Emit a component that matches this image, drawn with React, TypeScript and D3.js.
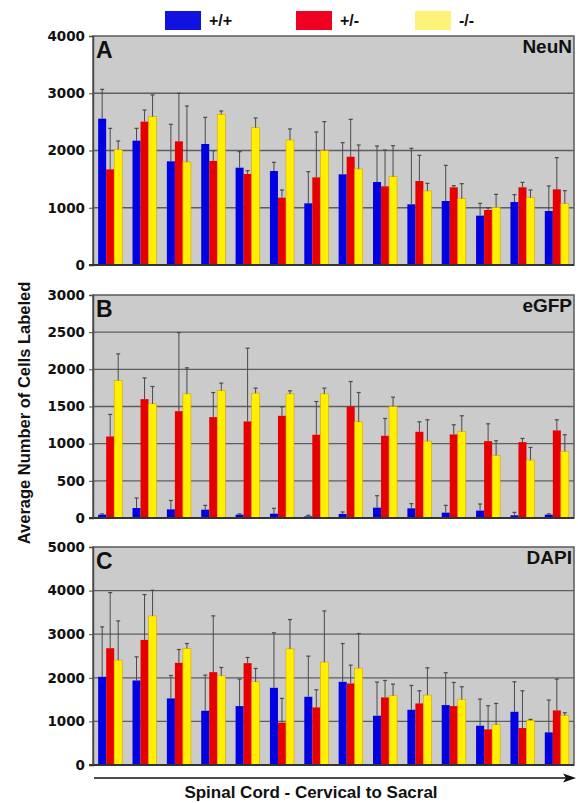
import React, { useEffect, useRef } from 'react';
import * as d3 from 'd3';

// 14 spinal cord levels, cervical -> sacral
const levels = d3.range(14).map(i => `L${i + 1}`);
const genotypes = ['+/+', '+/-', '-/-'];

// NeuN (panel A)
const neunWT = [2556, 2172, 1811, 2114, 1700, 1642, 1077, 1584, 1450, 1060, 1118, 862, 1100, 943];
const neunWTsd = [512, 215, 646, 465, 280, 151, 553, 553, 629, 978, 623, 215, 129, 437];
const neunHet = [1671, 2504, 2160, 1817, 1590, 1176, 1531, 1892, 1374, 1467, 1357, 961, 1357, 1322];
const neunHetSd = [716, 203, 839, 180, 58, 134, 792, 652, 635, 449, 29, 40, 87, 553];
const neunKO = [2020, 2591, 1799, 2632, 2399, 2183, 1997, 1677, 1543, 1293, 1159, 1007, 1176, 1071];
const neunKOsd = [146, 379, 978, 58, 169, 193, 507, 419, 541, 133, 262, 227, 134, 227];

// eGFP (panel B)
const gfpWT = [45, 134, 116, 112, 45, 58, 22, 54, 139, 130, 72, 99, 36, 45];
const gfpWTsd = [10, 135, 120, 58, 10, 72, 15, 27, 161, 63, 98, 89, 40, 10];
const gfpHet = [1097, 1599, 1437, 1357, 1299, 1375, 1120, 1500, 1106, 1160, 1124, 1034, 1021, 1178];
const gfpHetSd = [296, 286, 1057, 331, 985, 121, 447, 336, 233, 134, 130, 233, 49, 143];
const gfpKO = [1849, 1536, 1670, 1715, 1679, 1670, 1670, 1294, 1500, 1034, 1164, 842, 779, 896];
const gfpKOsd = [359, 233, 350, 99, 68, 41, 77, 394, 126, 287, 211, 197, 170, 224];

// DAPI (panel C)
const dapiWT = [2023, 1939, 1527, 1244, 1351, 1771, 1565, 1908, 1130, 1267, 1374, 901, 1221, 748];
const dapiWTsd = [1145, 542, 526, 817, 618, 1260, 931, 878, 771, 557, 741, 610, 687, 741];
const dapiHet = [2679, 2870, 2344, 2130, 2336, 969, 1321, 1870, 1550, 1412, 1351, 817, 847, 1252];
const dapiHetSd = [1275, 1038, 305, 1290, 130, 558, 404, 420, 389, 290, 542, 542, 855, 717];
const dapiKO = [2405, 3420, 2672, 2046, 1908, 2664, 2359, 2221, 1588, 1603, 1504, 924, 1023, 1137];
const dapiKOsd = [900, 588, 114, 191, 306, 672, 1175, 794, 267, 626, 290, 488, 23, 61];

const panels = [
  { letter: 'A', name: 'NeuN', top: 36, bottom: 265, max: 4000, step: 1000,
    means: [neunWT, neunHet, neunKO], sds: [neunWTsd, neunHetSd, neunKOsd] },
  { letter: 'B', name: 'eGFP', top: 295, bottom: 518, max: 3000, step: 500,
    means: [gfpWT, gfpHet, gfpKO], sds: [gfpWTsd, gfpHetSd, gfpKOsd] },
  { letter: 'C', name: 'DAPI', top: 547, bottom: 765, max: 5000, step: 1000,
    means: [dapiWT, dapiHet, dapiKO], sds: [dapiWTsd, dapiHetSd, dapiKOsd] },
];

const barColors = ['#0000e0', '#e60000', '#ffef00'];
const legendColors = ['#1212e0', '#f00020', '#fff278'];
const sans = 'Liberation Sans, Arial, sans-serif';
const tickFont = 'DejaVu Sans, Verdana, sans-serif';

const App = () => {
  const svgRef = useRef<SVGSVGElement>(null);
  const width = 578;
  const height = 803;

  useEffect(() => {
    const svg = d3.select(svgRef.current);
    svg.selectAll('*').remove();

    const left = 93;
    const right = 574;

    const x0 = d3.scaleBand<string>()
      .domain(levels)
      .range([left, right])
      .paddingInner(0.3)
      .paddingOuter(0.15);

    const x1 = d3.scaleBand<string>()
      .domain(genotypes)
      .range([0, x0.bandwidth()]);

    panels.forEach(p => {
      const y = d3.scaleLinear().domain([0, p.max]).range([p.bottom, p.top]);
      const g = svg.append('g');

      // plot background
      g.append('rect')
        .attr('x', left)
        .attr('y', p.top)
        .attr('width', right - left)
        .attr('height', p.bottom - p.top)
        .attr('fill', '#cbcbcb')
        .attr('stroke', '#5a5a5a')
        .attr('stroke-width', 1.5);

      const ticks = d3.range(0, p.max + 1, p.step);

      // gridlines
      g.selectAll('.grid')
        .data(ticks.filter(t => t > 0 && t < p.max))
        .enter()
        .append('line')
        .attr('x1', left)
        .attr('x2', right)
        .attr('y1', d => y(d))
        .attr('y2', d => y(d))
        .attr('stroke', '#5e5e5e')
        .attr('stroke-width', 1.3);

      // y axis ticks + labels
      const axis = g.append('g')
        .attr('transform', `translate(${left},0)`)
        .call(d3.axisLeft(y).tickValues(ticks).tickSize(4).tickPadding(4).tickFormat(d3.format('d')));
      axis.select('.domain').attr('stroke', '#4a4a4a').attr('stroke-width', 1.5);
      axis.selectAll('.tick line').attr('stroke', '#4a4a4a');
      axis.selectAll('.tick text')
        .attr('fill', '#111')
        .style('font-family', tickFont)
        .style('font-weight', 'bold')
        .style('font-size', '13.5px');

      // bars
      const groups = g.selectAll('.grp')
        .data(levels)
        .enter()
        .append('g')
        .attr('transform', d => `translate(${x0(d)},0)`);

      genotypes.forEach((gt, k) => {
        groups.append('rect')
          .attr('x', x1(gt)!)
          .attr('width', x1.bandwidth())
          .attr('y', (_, i) => y(p.means[k][i]))
          .attr('height', (_, i) => p.bottom - y(p.means[k][i]))
          .attr('fill', barColors[k])
          .attr('stroke', k === 2 ? '#e0a000' : 'none')
          .attr('stroke-width', k === 2 ? 0.6 : 0);

        const cx = x1(gt)! + x1.bandwidth() / 2;
        groups.append('line')
          .attr('x1', cx)
          .attr('x2', cx)
          .attr('y1', (_, i) => y(p.means[k][i]))
          .attr('y2', (_, i) => y(p.means[k][i] + p.sds[k][i]))
          .attr('stroke', '#4a4a4a')
          .attr('stroke-width', 1);

        groups.append('line')
          .attr('x1', cx - 2)
          .attr('x2', cx + 2)
          .attr('y1', (_, i) => y(p.means[k][i] + p.sds[k][i]))
          .attr('y2', (_, i) => y(p.means[k][i] + p.sds[k][i]))
          .attr('stroke', '#4a4a4a')
          .attr('stroke-width', 1.2);
      });

      // baseline
      g.append('line')
        .attr('x1', left - 4)
        .attr('x2', right)
        .attr('y1', p.bottom)
        .attr('y2', p.bottom)
        .attr('stroke', '#333')
        .attr('stroke-width', 1.8);

      // panel letter and stain name
      g.append('text')
        .attr('x', left + 3)
        .attr('y', p.top + 22)
        .style('font-family', sans)
        .style('font-weight', 'bold')
        .style('font-size', '23px')
        .attr('fill', '#111')
        .text(p.letter);

      g.append('text')
        .attr('x', right - 2)
        .attr('y', p.top + 17)
        .attr('text-anchor', 'end')
        .style('font-family', sans)
        .style('font-weight', 'bold')
        .style('font-size', '19px')
        .attr('fill', '#111')
        .text(p.name);
    });

    // legend
    const legendX = [165, 296, 415];
    genotypes.forEach((gt, k) => {
      svg.append('rect')
        .attr('x', legendX[k])
        .attr('y', 11)
        .attr('width', 36)
        .attr('height', 19)
        .attr('fill', legendColors[k]);
      svg.append('text')
        .attr('x', legendX[k] + 44)
        .attr('y', 26)
        .style('font-family', sans)
        .style('font-weight', 'bold')
        .style('font-size', '16px')
        .attr('fill', '#111')
        .text(gt);
    });

    // y axis title
    svg.append('text')
      .attr('transform', 'translate(30,413) rotate(-90)')
      .attr('text-anchor', 'middle')
      .style('font-family', sans)
      .style('font-weight', 'bold')
      .style('font-size', '16.5px')
      .attr('fill', '#111')
      .text('Average Number of Cells Labeled');

    // x axis arrow
    svg.append('line')
      .attr('x1', 94)
      .attr('x2', 566)
      .attr('y1', 778)
      .attr('y2', 778)
      .attr('stroke', '#111')
      .attr('stroke-width', 1.5);
    svg.append('path')
      .attr('d', 'M576,778 L563,773.5 L566,778 L563,782.5 Z')
      .attr('fill', '#111');

    svg.append('text')
      .attr('x', 311)
      .attr('y', 798)
      .attr('text-anchor', 'middle')
      .style('font-family', sans)
      .style('font-weight', 'bold')
      .style('font-size', '17px')
      .attr('fill', '#111')
      .text('Spinal Cord - Cervical to Sacral');
  }, []);

  return (
    <svg
      ref={svgRef}
      width={width}
      height={height}
      style={{ position: 'absolute', left: 0, top: 0, background: '#fff' }}
    />
  );
};

export default App;
